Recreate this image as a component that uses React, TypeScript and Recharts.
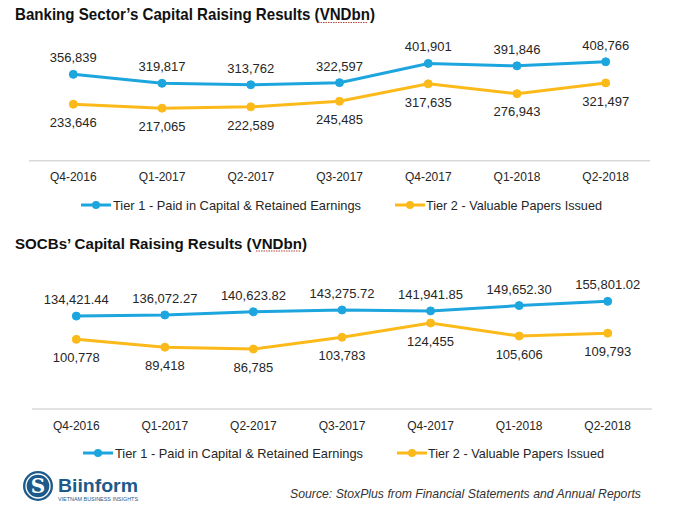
import React from 'react';
import { LineChart, Line, XAxis, YAxis, LabelList, Legend } from 'recharts';

const categories = ['Q4-2016', 'Q1-2017', 'Q2-2017', 'Q3-2017', 'Q4-2017', 'Q1-2018', 'Q2-2018'];
const bankTier1 = [356839, 319817, 313762, 322597, 401901, 391846, 408766];
const bankTier2 = [233646, 217065, 222589, 245485, 317635, 276943, 321497];
const socbTier1 = [134421.44, 136072.27, 140623.82, 143275.72, 141941.85, 149652.3, 155801.02];
const socbTier2 = [100778, 89418, 86785, 103783, 124455, 105606, 109793];
const seriesNames = ['Tier 1 - Paid in Capital & Retained Earnings', 'Tier 2 - Valuable Papers Issued'];

const BLUE = '#1DA5DE';
const ORANGE = '#FBBA1A';
const TEXT = '#262626';
const FONT = '"Liberation Sans", Arial, sans-serif';

const bankData = categories.map((c, i) => ({ cat: c, t1: bankTier1[i], t2: bankTier2[i] }));
const socbData = categories.map((c, i) => ({ cat: c, t1: socbTier1[i], t2: socbTier2[i] }));

const fmtInt = (v: any) => Number(v).toLocaleString('en-US', { maximumFractionDigits: 0 });
const fmtDec = (v: any) =>
  Number(v).toLocaleString('en-US', { minimumFractionDigits: 2, maximumFractionDigits: 2 });

type LegendLayout = { icon: number; text: number; len: number }[];

const makeLegend = (layout: LegendLayout) => (props: any) => {
  const payload = props.payload || [];
  return (
    <svg width={680} height={20} style={{ display: 'block', overflow: 'visible' }}>
      {payload.map((p: any, i: number) => {
        const l = layout[i];
        return (
          <g key={i}>
            <line x1={l.icon} x2={l.icon + 30} y1={10} y2={10} stroke={p.color} strokeWidth={3} />
            <circle cx={l.icon + 15} cy={10} r={4} fill={p.color} />
            <text
              x={l.text}
              y={14.5}
              fontSize={13}
              fill={TEXT}
              fontFamily={FONT}
              textLength={l.len}
              lengthAdjust="spacingAndGlyphs"
            >
              {p.value}
            </text>
          </g>
        );
      })}
    </svg>
  );
};

const legend1: LegendLayout = [
  { icon: 81, text: 113, len: 248 },
  { icon: 395, text: 426, len: 176 },
];
const legend2: LegendLayout = [
  { icon: 83, text: 115, len: 248 },
  { icon: 397, text: 428, len: 176 },
];

type ChartProps = {
  data: any[];
  max: number;
  height: number;
  margin: { top: number; left: number; right: number; bottom: number };
  pad: number;
  fmt1: (v: any) => string;
  fmt2: (v: any) => string;
  legendTop: number;
  legendLayout: LegendLayout;
};

const Chart = ({ data, max, height, margin, pad, fmt1, fmt2, legendTop, legendLayout }: ChartProps) => (
  <LineChart width={680} height={height} data={data} margin={margin}>
    <XAxis
      dataKey="cat"
      axisLine={{ stroke: '#d9d9d9', strokeWidth: 1.5 }}
      tickLine={false}
      tickSize={0}
      tickMargin={12}
      height={30}
      interval={0}
      padding={{ left: pad, right: pad }}
      tick={{ fill: TEXT, fontSize: 12, fontFamily: FONT }}
    />
    <YAxis hide domain={[0, max]} />
    <Legend
      verticalAlign="middle"
      layout="horizontal"
      wrapperStyle={{ top: legendTop - 10, left: 0, width: 680, height: 20 }}
      content={makeLegend(legendLayout)}
    />
    <Line
      dataKey="t1"
      name={seriesNames[0]}
      stroke={BLUE}
      strokeWidth={3}
      dot={{ r: 4, fill: BLUE, stroke: BLUE, strokeWidth: 1 }}
      isAnimationActive={false}
    >
      <LabelList dataKey="t1" position="top" offset={12} formatter={fmt1} fill={TEXT} fontSize={13} fontFamily={FONT} />
    </Line>
    <Line
      dataKey="t2"
      name={seriesNames[1]}
      stroke={ORANGE}
      strokeWidth={3}
      dot={{ r: 4, fill: ORANGE, stroke: ORANGE, strokeWidth: 1 }}
      isAnimationActive={false}
    >
      <LabelList dataKey="t2" position="bottom" offset={13.5} formatter={fmt2} fill={TEXT} fontSize={13} fontFamily={FONT} />
    </Line>
  </LineChart>
);

export default function App() {
  return (
    <div style={{ position: 'absolute', left: 0, top: 0, width: 680, height: 518, background: '#fff', overflow: 'hidden' }}>
      <div style={{ position: 'absolute', left: 0, top: 0 }}>
        <Chart
          data={bankData}
          max={500000}
          height={225}
          margin={{ top: 39.7, left: 29, right: 30, bottom: 34.3 }}
          pad={44.3}
          fmt1={fmtInt}
          fmt2={fmtInt}
          legendTop={205}
          legendLayout={legend1}
        />
      </div>
      <div style={{ position: 'absolute', left: 0, top: 240 }}>
        <Chart
          data={socbData}
          max={200000}
          height={230}
          margin={{ top: 30.8, left: 32, right: 28, bottom: 31 }}
          pad={44.3}
          fmt1={fmtDec}
          fmt2={fmtInt}
          legendTop={212.7}
          legendLayout={legend2}
        />
      </div>
      <svg width={680} height={518} style={{ position: 'absolute', left: 0, top: 0, pointerEvents: 'none' }}>
        <text x={15} y={20} fontSize={16.5} fontWeight="bold" fill="#111" fontFamily={FONT} textLength={360} lengthAdjust="spacingAndGlyphs">
          Banking Sector’s Capital Raising Results (VNDbn)
        </text>
        <line x1={318} x2={368} y1={22.5} y2={22.5} stroke="#b5453f" strokeWidth={1.2} strokeDasharray="1.5 1" />
        <text x={15} y={249} fontSize={15} fontWeight="bold" fill="#111" fontFamily={FONT} textLength={292} lengthAdjust="spacingAndGlyphs">
          SOCBs’ Capital Raising Results (VNDbn)
        </text>
        <line x1={256} x2={300} y1={251} y2={251} stroke="#b5453f" strokeWidth={1.2} strokeDasharray="1.5 1" />
        <g>
          <circle cx={38} cy={486} r={15} fill="#1d5a8a" />
          <circle cx={38} cy={486} r={12} fill="none" stroke="#fff" strokeWidth={1.3} />
          <text x={38} y={493} textAnchor="middle" fontSize={20} fontWeight="bold" fill="#fff" fontFamily='"DejaVu Serif", serif'>
            S
          </text>
          <text x={58} y={492} fontSize={19} fontWeight="bold" fill="#1d5a8a" fontFamily={FONT} textLength={80} lengthAdjust="spacingAndGlyphs">
            Biinform
          </text>
          <text x={58} y={501} fontSize={4.5} fill="#1d5a8a" fontFamily={FONT} textLength={80} lengthAdjust="spacingAndGlyphs">
            VIETNAM BUSINESS INSIGHTS
          </text>
        </g>
        <text x={290} y={498} fontSize={13} fontStyle="italic" fill="#333" fontFamily={FONT} textLength={351} lengthAdjust="spacingAndGlyphs">
          Source: StoxPlus from Financial Statements and Annual Reports
        </text>
      </svg>
    </div>
  );
}
